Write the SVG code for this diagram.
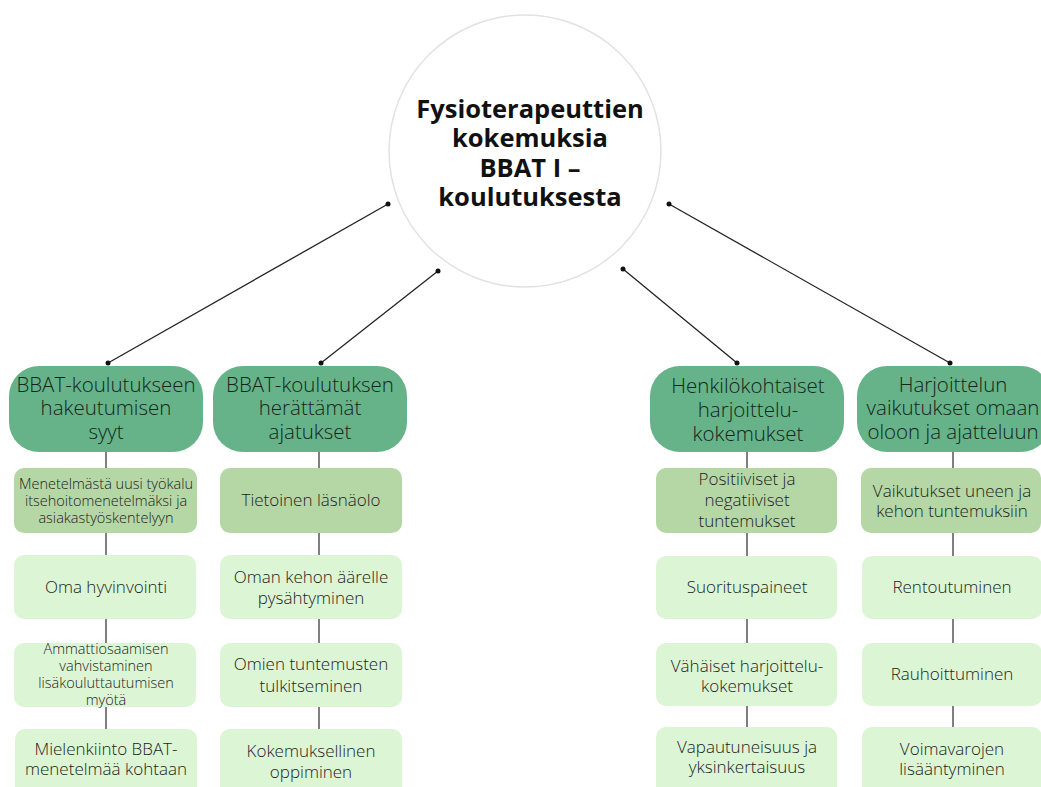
<svg xmlns="http://www.w3.org/2000/svg" width="1041" height="787" viewBox="0 0 1041 787">
<style>
.hdr{fill:#66b389}
.l1{fill:#b5d7a6}
.l2{fill:#dcf5d4}
.ht{font-family:"Open Sans","Liberation Sans",sans-serif;font-size:20.5px;font-weight:300;fill:#15241b;text-anchor:middle}
.st{font-family:"Open Sans","Liberation Sans",sans-serif;font-size:17px;font-weight:300;fill:#1c1c1c;text-anchor:middle}
.sm{font-family:"Open Sans","Liberation Sans",sans-serif;font-size:14.5px;font-weight:300;fill:#1c1c1c;text-anchor:middle}
.tt{font-family:"Open Sans","Liberation Sans",sans-serif;font-size:25.5px;font-weight:700;fill:#111;text-anchor:middle}
.dl{stroke:#222;stroke-width:1.3;fill:none}
.vl{stroke:#555;stroke-width:1.5;fill:none}
.dot{fill:#111}
</style>
<rect width="1041" height="787" fill="#fff"/>
<g id="connectors">
<line class="vl" x1="106" y1="450" x2="106" y2="787"/>
<line class="vl" x1="319" y1="450" x2="319" y2="787"/>
<line class="vl" x1="747" y1="450" x2="747" y2="787"/>
<line class="vl" x1="953" y1="450" x2="953" y2="787"/>
<line class="dl" x1="388" y1="204" x2="108" y2="363"/>
<line class="dl" x1="438" y1="271" x2="321" y2="363"/>
<line class="dl" x1="623" y1="269" x2="737" y2="363"/>
<line class="dl" x1="669" y1="204" x2="950" y2="363"/>
<circle class="dot" cx="388" cy="204" r="2.5"/><circle class="dot" cx="108" cy="363" r="2.5"/>
<circle class="dot" cx="438" cy="271" r="2.5"/><circle class="dot" cx="321" cy="363" r="2.5"/>
<circle class="dot" cx="623" cy="269" r="2.5"/><circle class="dot" cx="737" cy="363" r="2.5"/>
<circle class="dot" cx="669" cy="204" r="2.5"/><circle class="dot" cx="950" cy="363" r="2.5"/>
</g>
<g id="center">
<circle cx="525" cy="151" r="136" fill="#fff" stroke="#e2e2e2" stroke-width="1.5"/>
<text class="tt" x="530" y="118">Fysioterapeuttien</text>
<text class="tt" x="530" y="147">kokemuksia </text>
<text class="tt" x="530" y="177">BBAT I –</text>
<text class="tt" x="530" y="206">koulutuksesta</text>
</g>
<g id="h1"><rect class="hdr" x="9" y="366" width="194" height="86" rx="30"/>
<text class="ht" x="106" y="392">BBAT-koulutukseen</text><text class="ht" x="106" y="415">hakeutumisen</text><text class="ht" x="106" y="439">syyt</text></g>
<g id="h2"><rect class="hdr" x="213" y="366" width="194" height="86" rx="30"/>
<text class="ht" x="310" y="392">BBAT-koulutuksen</text><text class="ht" x="310" y="415">herättämät</text><text class="ht" x="310" y="439">ajatukset</text></g>
<g id="h3"><rect class="hdr" x="650" y="366" width="194" height="86" rx="30"/>
<text class="ht" x="748" y="393">Henkilökohtaiset</text><text class="ht" x="748" y="417">harjoittelu-</text><text class="ht" x="748" y="441">kokemukset</text></g>
<g id="h4"><rect class="hdr" x="857" y="366" width="194" height="86" rx="30"/>
<text class="ht" x="953" y="392">Harjoittelun</text><text class="ht" x="953" y="415">vaikutukset omaan</text><text class="ht" x="953" y="439">oloon ja ajatteluun</text></g>

<g id="c1a"><rect class="l1" x="14" y="468" width="183" height="65" rx="10"/>
<text class="sm" x="106" y="489">Menetelmästä uusi työkalu</text><text class="sm" x="106" y="506">itsehoitomenetelmäksi ja</text><text class="sm" x="106" y="523">asiakastyöskentelyyn</text></g>
<g id="c1b"><rect class="l2" x="14" y="555" width="182" height="64" rx="10"/>
<text class="st" x="106" y="593">Oma hyvinvointi</text></g>
<g id="c1c"><rect class="l2" x="14" y="643" width="182" height="64" rx="10"/>
<text class="sm" x="106" y="654">Ammattiosaamisen</text><text class="sm" x="106" y="671">vahvistaminen</text><text class="sm" x="106" y="688">lisäkouluttautumisen</text><text class="sm" x="106" y="705">myötä</text></g>
<g id="c1d"><rect class="l2" x="15" y="729" width="182" height="70" rx="10"/>
<text class="st" x="106" y="755">Mielenkiinto BBAT-</text><text class="st" x="106" y="775">menetelmää kohtaan</text></g>

<g id="c2a"><rect class="l1" x="220" y="468" width="182" height="65" rx="10"/>
<text class="st" x="311" y="506">Tietoinen läsnäolo</text></g>
<g id="c2b"><rect class="l2" x="220" y="555" width="182" height="64" rx="10"/>
<text class="st" x="311" y="583">Oman kehon äärelle</text><text class="st" x="311" y="604">pysähtyminen</text></g>
<g id="c2c"><rect class="l2" x="220" y="643" width="182" height="64" rx="10"/>
<text class="st" x="311" y="670">Omien tuntemusten</text><text class="st" x="311" y="692">tulkitseminen</text></g>
<g id="c2d"><rect class="l2" x="220" y="729" width="182" height="70" rx="10"/>
<text class="st" x="311" y="757">Kokemuksellinen</text><text class="st" x="311" y="778">oppiminen</text></g>

<g id="c3a"><rect class="l1" x="656" y="468" width="181" height="65" rx="10"/>
<text class="st" x="747" y="485">Positiiviset ja</text><text class="st" x="747" y="506">negatiiviset</text><text class="st" x="747" y="527">tuntemukset</text></g>
<g id="c3b"><rect class="l2" x="656" y="556" width="181" height="63" rx="10"/>
<text class="st" x="747" y="593">Suorituspaineet</text></g>
<g id="c3c"><rect class="l2" x="656" y="643" width="181" height="63" rx="10"/>
<text class="st" x="747" y="672">Vähäiset harjoittelu-</text><text class="st" x="747" y="692">kokemukset</text></g>
<g id="c3d"><rect class="l2" x="656" y="727" width="181" height="72" rx="10"/>
<text class="st" x="747" y="753">Vapautuneisuus ja</text><text class="st" x="747" y="773">yksinkertaisuus</text></g>

<g id="c4a"><rect class="l1" x="861" y="468" width="180" height="65" rx="10"/>
<text class="st" x="952" y="497">Vaikutukset uneen ja</text><text class="st" x="952" y="517">kehon tuntemuksiin</text></g>
<g id="c4b"><rect class="l2" x="862" y="556" width="180" height="63" rx="10"/>
<text class="st" x="952" y="593">Rentoutuminen</text></g>
<g id="c4c"><rect class="l2" x="862" y="643" width="180" height="63" rx="10"/>
<text class="st" x="952" y="680">Rauhoittuminen</text></g>
<g id="c4d"><rect class="l2" x="862" y="727" width="180" height="72" rx="10"/>
<text class="st" x="952" y="755">Voimavarojen</text><text class="st" x="952" y="775">lisääntyminen</text></g>
</svg>
